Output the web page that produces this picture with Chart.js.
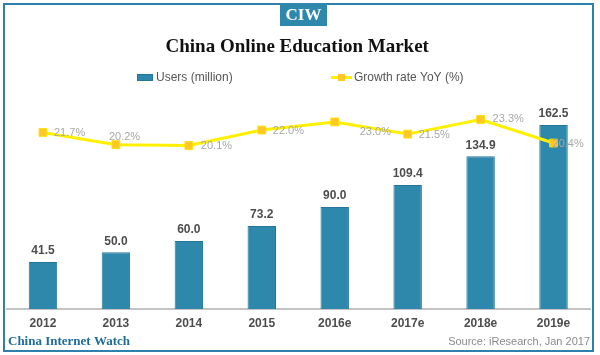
<!DOCTYPE html>
<html>
<head>
<meta charset="utf-8">
<script src="https://cdn.jsdelivr.net/npm/chart.js@4/dist/chart.umd.min.js"></script>
<style>
  html, body { margin: 0; padding: 0; background: #fff; }
  #wrap { width: 600px; height: 355px; position: relative; }
</style>
</head>
<body>
<div id="wrap"><canvas id="c" width="600" height="355"></canvas></div>
<script>
const categories = ['2012', '2013', '2014', '2015', '2016e', '2017e', '2018e', '2019e'];
const users = [41.5, 50.0, 60.0, 73.2, 90.0, 109.4, 134.9, 162.5];
const growth = [21.7, 20.2, 20.1, 22.0, 23.0, 21.5, 23.3, 20.4];
const seriesNames = ['Users (million)', 'Growth rate YoY (%)'];
const titleText = 'China Online Education Market';
const badgeText = 'CIW';
const footerLeft = 'China Internet Watch';
const footerRight = 'Source: iResearch, Jan 2017';

// label offsets for the growth labels (style only)
const growthLabelOffsets = [[11, 0], [-7, -8], [12, 0], [11, 1], [25, 10], [11, 1], [12, 0], [-1, 1]];

const TEAL = '#2d88ab';
const TEAL_DARK = '#23759a';
const YELLOW = '#fff000';
const MARKER = '#ffc62a';

const decor = {
  id: 'decor',
  beforeDraw(chart) {
    const ctx = chart.ctx;
    ctx.save();
    ctx.fillStyle = '#fff';
    ctx.fillRect(0, 0, chart.width, chart.height);
    ctx.restore();
  },
  afterDraw(chart) {
    const ctx = chart.ctx;
    ctx.save();
    // frame
    ctx.strokeStyle = '#2f80ad';
    ctx.lineWidth = 2;
    ctx.strokeRect(4, 4, 589, 347);
    // badge
    ctx.fillStyle = TEAL;
    ctx.fillRect(280, 3, 47, 23);
    ctx.fillStyle = '#fff';
    ctx.font = 'bold 17px "Liberation Serif"';
    ctx.textAlign = 'center';
    ctx.textBaseline = 'middle';
    ctx.fillText(badgeText, 303.5, 15.5);
    // legend
    ctx.font = '12px "Liberation Sans"';
    ctx.textAlign = 'left';
    ctx.fillStyle = TEAL;
    ctx.fillRect(137, 74, 16, 7);
    ctx.strokeStyle = TEAL_DARK;
    ctx.lineWidth = 1;
    ctx.strokeRect(137.5, 74.5, 15, 6);
    ctx.fillStyle = '#555';
    ctx.fillText(seriesNames[0], 156, 77.5);
    ctx.strokeStyle = YELLOW;
    ctx.lineWidth = 3;
    ctx.beginPath(); ctx.moveTo(331, 77.5); ctx.lineTo(352, 77.5); ctx.stroke();
    ctx.fillStyle = MARKER;
    ctx.fillRect(338, 74, 7, 7);
    ctx.fillStyle = '#555';
    ctx.fillText(seriesNames[1], 354, 77.5);
    // footer
    ctx.fillStyle = '#1f6c98';
    ctx.font = 'bold 13px "Liberation Serif"';
    ctx.textAlign = 'left';
    ctx.fillText(footerLeft, 8, 342);
    ctx.fillStyle = '#8a8a8a';
    ctx.font = '11px "Liberation Sans"';
    ctx.textAlign = 'right';
    ctx.fillText(footerRight, 590, 342);
    ctx.restore();
  },
  afterDatasetsDraw(chart) {
    const ctx = chart.ctx;
    ctx.save();
    const barMeta = chart.getDatasetMeta(1);
    ctx.font = 'bold 12px "Liberation Sans"';
    ctx.fillStyle = '#4d4d4d';
    ctx.textAlign = 'center';
    ctx.textBaseline = 'middle';
    barMeta.data.forEach((el, i) => {
      ctx.fillText(users[i].toFixed(1), el.x, el.y - 11);
    });
    const lineMeta = chart.getDatasetMeta(0);
    ctx.font = '11px "Liberation Sans"';
    ctx.fillStyle = '#a8a8a8';
    ctx.textAlign = 'left';
    lineMeta.data.forEach((el, i) => {
      const o = growthLabelOffsets[i];
      ctx.fillText(growth[i].toFixed(1) + '%', el.x + o[0], el.y + o[1]);
    });
    ctx.restore();
  }
};

new Chart(document.getElementById('c'), {
  data: {
    labels: categories,
    datasets: [
      {
        type: 'line',
        label: seriesNames[1],
        data: growth,
        yAxisID: 'yLine',
        borderColor: YELLOW,
        borderWidth: 3,
        pointStyle: 'rect',
        pointRadius: 5.5,
        pointBackgroundColor: MARKER,
        pointBorderColor: '#ffe000',
        pointBorderWidth: 1,
        tension: 0,
        order: 0
      },
      {
        type: 'bar',
        label: seriesNames[0],
        data: users,
        yAxisID: 'yBar',
        backgroundColor: TEAL,
        borderColor: TEAL_DARK,
        borderWidth: 1,
        categoryPercentage: 1,
        barPercentage: 0.39,
        order: 1
      }
    ]
  },
  options: {
    responsive: false,
    animation: false,
    devicePixelRatio: 1,
    layout: { padding: { left: 4.5, right: 10, top: 0, bottom: 0 } },
    plugins: {
      legend: { display: false },
      tooltip: { enabled: false },
      title: {
        display: true,
        text: titleText,
        color: '#111',
        font: { family: '"Liberation Serif"', size: 19, weight: 'bold', lineHeight: 1.2 },
        padding: { top: 36, bottom: 45.2 }
      }
    },
    scales: {
      x: {
        offset: true,
        grid: { display: false, drawTicks: false },
        border: { display: true, color: '#c4c4c4', width: 2 },
        ticks: { color: '#4d4d4d', font: { family: '"Liberation Sans"', size: 12, weight: 'bold' }, padding: 7, maxRotation: 0 },
        afterFit(scale) { scale.height = 46; }
      },
      yBar: { display: false, min: 0, max: 181 },
      yLine: { display: false, min: 0, max: 25.2 }
    }
  },
  plugins: [decor]
});
</script>
</body>
</html>
